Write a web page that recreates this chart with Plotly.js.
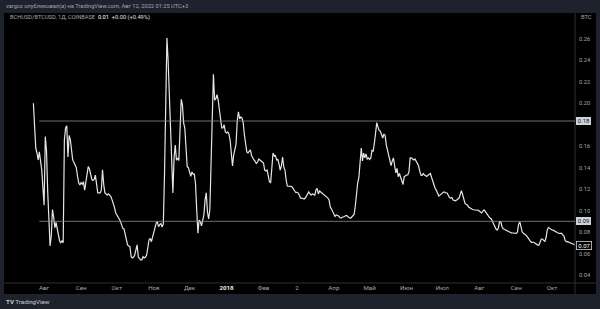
<!DOCTYPE html>
<html>
<head>
<meta charset="utf-8">
<script src="https://cdn.plot.ly/plotly-3.0.1.min.js"></script>
<style>
html,body{margin:0;padding:0;background:#1e222d;}
#chart{width:600px;height:309px;}
</style>
</head>
<body>
<div id="chart"></div>
<script>
// ---- data (daily closes, BCHUSD/BTCUSD) ----
const startDate = '2017-07-23';
const values = [
// Jul 2017 (23-31)
0.200,0.1705,0.1584,0.1537,0.1472,0.1547,0.1472,0.138,0.121,
// Aug 2017
0.105,0.169,0.156,0.118,0.085,0.067,0.0763,0.101,0.094,0.084,0.089,0.082,0.076,0.0717,0.070,0.0717,0.070,0.1658,0.177,0.179,0.150,0.170,0.166,0.1565,0.147,0.145,0.143,0.140,0.132,0.126,0.124,
// Sep 2017
0.126,0.1245,0.127,0.119,0.126,0.136,0.141,0.139,0.133,0.129,0.128,0.129,0.133,0.124,0.1165,0.1165,0.1165,0.119,0.138,0.124,0.1165,0.1155,0.1145,0.1155,0.1145,0.113,0.110,0.107,0.103,0.098,
// Oct 2017
0.096,0.095,0.093,0.090,0.0867,0.0834,0.083,0.0773,0.0726,0.068,0.067,0.0664,0.057,0.0558,0.0567,0.0586,0.0633,0.068,0.0567,0.055,0.054,0.054,0.057,0.0558,0.0567,0.0586,0.065,0.0726,0.074,0.071,0.0755,
// Nov 2017
0.080,0.0838,0.0884,0.0894,0.085,0.087,0.088,0.0847,0.0875,0.135,0.203,0.261,0.240,0.2125,0.180,0.147,0.1165,0.149,0.161,0.147,0.149,0.1467,0.180,0.2038,0.1985,0.1817,0.177,0.161,0.141,0.140,
// Dec 2017
0.137,0.132,0.136,0.134,0.134,0.125,0.1006,0.079,0.0912,0.0897,0.0857,0.090,0.096,0.110,0.1165,0.0987,0.0922,0.101,0.1425,0.189,0.227,0.203,0.204,0.208,0.203,0.194,0.1826,0.177,0.177,0.180,0.1733,
// Jan 2018
0.1724,0.1733,0.1714,0.1658,0.1547,0.1416,0.152,0.1574,0.162,0.184,0.192,0.1854,0.1873,0.1863,0.1817,0.1705,0.160,0.1547,0.1537,0.1556,0.1565,0.1514,0.1486,0.1472,0.1458,0.1439,0.1453,0.1481,0.1472,0.1458,0.1453,
// Feb 2018
0.1444,0.1378,0.137,0.1378,0.1323,0.1267,0.1262,0.1378,0.1537,0.1509,0.1514,0.1472,0.1477,0.1435,0.1378,0.1416,0.150,0.1407,0.1378,0.1285,0.1229,0.1227,0.1229,0.1225,0.122,0.1206,0.1192,0.1169,
// Mar 2018
0.1169,0.1164,0.1145,0.1117,0.1117,0.1116,0.1108,0.1117,0.1136,0.1145,0.1173,0.1155,0.1145,0.1155,0.115,0.1145,0.1192,0.1206,0.1155,0.1183,0.1173,0.1164,0.115,0.1141,0.1136,0.1127,0.1117,0.1099,0.1033,0.1015,0.0987,
// Apr 2018
0.0959,0.0945,0.0959,0.0954,0.095,0.0936,0.0931,0.0938,0.094,0.0945,0.0954,0.0954,0.094,0.0931,0.0928,0.094,0.0954,0.0964,0.1043,0.1192,0.1257,0.1309,0.1425,0.1584,0.1463,0.1535,0.1491,0.1528,0.1481,0.1491,
// May 2018
0.1477,0.1491,0.1561,0.1556,0.1628,0.1742,0.182,0.1779,0.1747,0.174,0.1705,0.1677,0.1714,0.17,0.1612,0.1556,0.1519,0.1463,0.142,0.1463,0.1491,0.1416,0.1351,0.1393,0.1316,0.1346,0.1313,0.1271,0.1243,0.1316,0.1327,
// Jun 2018
0.1332,0.1332,0.136,0.1491,0.1491,0.1481,0.1472,0.1481,0.1463,0.1439,0.142,0.137,0.1332,0.1327,0.1346,0.1332,0.1323,0.1318,0.133,0.1341,0.1346,0.1309,0.1267,0.1229,0.1206,0.1189,0.1159,0.1136,0.1144,0.1155,
// Jul 2018
0.1164,0.1173,0.1173,0.1164,0.1164,0.1145,0.1122,0.1117,0.1122,0.1099,0.1092,0.1092,0.1099,0.1108,0.1117,0.115,0.1186,0.115,0.1108,0.1066,0.1057,0.1052,0.1033,0.1024,0.1017,0.1012,0.1008,0.1004,0.1001,0.1003,0.1004,
// Aug 2018
0.0993,0.0988,0.0978,0.0996,0.1006,0.0992,0.0973,0.0956,0.0943,0.0931,0.0922,0.09,0.0875,0.0847,0.0828,0.0819,0.0838,0.0898,0.0898,0.0852,0.0831,0.0826,0.0822,0.0816,0.0808,0.0802,0.0795,0.0792,0.0791,0.0791,0.0794,
// Sep 2018
0.0788,0.08,0.0875,0.0894,0.0838,0.08,0.0788,0.0782,0.0773,0.0759,0.074,0.0723,0.0712,0.0703,0.0707,0.0703,0.0693,0.0684,0.0679,0.0679,0.0707,0.0735,0.0735,0.0721,0.0711,0.0749,0.0819,0.0842,0.0835,0.0821,
// Oct 2018 (1-20)
0.0819,0.0818,0.081,0.0801,0.0795,0.0791,0.0788,0.0791,0.0787,0.0774,0.0763,0.0721,0.071,0.071,0.0704,0.0698,0.0696,0.0691,0.0688,0.0679
];

const monthTicks = ['2017-08-01','2017-09-01','2017-10-01','2017-11-01','2017-12-01','2018-01-01','2018-02-01','2018-03-01','2018-04-01','2018-05-01','2018-06-01','2018-07-01','2018-08-01','2018-09-01','2018-10-01'];
const monthLabels = ['Авг','Сен','Окт','Ноя','Дек','<span style="color:#e8e9ee"><b>2018</b></span>','Фев','2','Апр','Май','Июн','Июл','Авг','Сен','Окт'];
// 0.18 price-scale label is hidden under the 0.18 level box in the original
const priceTicks = [0.04,0.06,0.08,0.10,0.12,0.14,0.16,0.20,0.22,0.24,0.26];
const priceLabels = ['0.04','0.06','0.08','0.10','0.12','0.14','0.16','0.20','0.22','0.24','0.26'];
const levelValues = [0.1835, 0.09];
const levelLabels = ['0.18', '0.09'];
const levelStart = '2017-07-28';

const headerText = 'vargoz опубликовал(а) на TradingView.com, Авг 12, 2022 01:25 UTC+3';
const symbolText = 'BCHUSD/BTCUSD, 1Д, COINBASE';
const lastText = '0.01';
const changeText = '+0.00 (+0.49%)';

// ---- build ----
const dates = values.map((v, i) => {
  const p = startDate.split('-').map(Number);
  const d = new Date(Date.UTC(p[0], p[1] - 1, p[2] + i));
  return d.toISOString().slice(0, 10);
});

const xRange = ['2017-06-28 08:38', '2018-10-20 06:14'];
const yRange = [0.0325, 0.2842];
const FONT = 'Roboto, "Liberation Sans", Arial, sans-serif';
const sepColor = '#2a2e39';
const txtColor = '#a3a6af';

const trace = {
  x: dates, y: values, type: 'scatter', mode: 'lines',
  line: {color: '#e6e6e6', width: 1.2},
  hoverinfo: 'skip'
};

const shapes = [
  {type:'rect', xref:'paper', yref:'paper', x0:0, x1:1.0368, y0:-0.0407, y1:1, fillcolor:'#000', line:{width:0}, layer:'below'},
  {type:'line', xref:'paper', yref:'paper', x0:1, x1:1, y0:-0.0407, y1:1, line:{color:sepColor, width:1}},
  {type:'line', xref:'paper', yref:'paper', x0:0, x1:1.0368, y0:0, y1:0, line:{color:sepColor, width:1}}
];
levelValues.forEach(v => shapes.push({
  type:'line', xref:'x', yref:'y', x0:levelStart, x1:xRange[1], y0:v, y1:v,
  line:{color:'#8c8c8c', width:0.8}
}));

const annotations = [
  {xref:'paper', yref:'paper', x:0, y:1.0259, xanchor:'left', yanchor:'middle', showarrow:false,
   text: headerText, font:{family:FONT, size:5.7, color:txtColor}},
  {xref:'paper', yref:'paper', x:0.007, y:0.9815, xanchor:'left', yanchor:'middle', showarrow:false,
   text: symbolText + '  <span style="color:#ffffff">' + lastText + '</span>  <span style="color:#e0e0e0">' + changeText + '</span>',
   font:{family:FONT, size:5.7, color:txtColor}},
  {xref:'paper', yref:'paper', x:1.0193, y:0.9852, xanchor:'center', yanchor:'middle', showarrow:false,
   text:'BTC', font:{family:FONT, size:5.7, color:txtColor}},
  {xref:'paper', yref:'paper', x:0, y:-0.0704, xanchor:'left', yanchor:'middle', showarrow:false,
   text:'<b>TV</b> TradingView', font:{family:FONT, size:6.2, color:'#c9ccd4'}}
];
levelValues.forEach((v, i) => annotations.push({
  xref:'paper', yref:'y', x:1, y:v, xanchor:'left', yanchor:'middle', xshift:0.5, showarrow:false,
  text: '&nbsp;' + levelLabels[i] + '&nbsp;', bgcolor:'#cfd2d9', borderpad:0.3, borderwidth:0,
  font:{family:FONT, size:6, color:'#131722'}
}));
const lastVal = values[values.length - 1];
annotations.push({
  xref:'paper', yref:'y', x:1, y:lastVal, xanchor:'left', yanchor:'middle', xshift:0.5, showarrow:false,
  text: '&nbsp;' + lastVal.toFixed(2) + '&nbsp;', bgcolor:'#000', bordercolor:'#d0d0d0', borderwidth:0.8, borderpad:0,
  font:{family:FONT, size:6, color:'#ffffff'}
});

const layout = {
  width:600, height:309,
  margin:{l:4, r:25, t:13, b:26, pad:0},
  paper_bgcolor:'#1e222d', plot_bgcolor:'#000',
  showlegend:false,
  xaxis:{type:'date', range:xRange, tickvals:monthTicks, ticktext:monthLabels,
         showgrid:false, zeroline:false, showline:false, ticks:'',
         tickfont:{family:FONT, size:6.2, color:txtColor}, fixedrange:true},
  yaxis:{side:'right', range:yRange, tickvals:priceTicks, ticktext:priceLabels,
         showgrid:false, zeroline:false, showline:false, ticks:'', ticklabelstandoff:3,
         tickfont:{family:FONT, size:5.8, color:txtColor}, fixedrange:true},
  shapes:shapes, annotations:annotations
};

Plotly.newPlot('chart', [trace], layout, {displayModeBar:false, staticPlot:true});
</script>
</body>
</html>
